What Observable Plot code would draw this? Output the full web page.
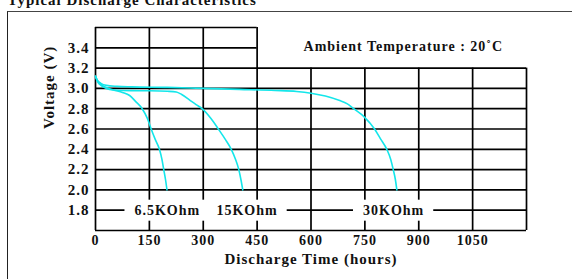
<!DOCTYPE html>
<html><head><meta charset="utf-8">
<script src="https://cdn.jsdelivr.net/npm/d3@7"></script>
<script src="https://cdn.jsdelivr.net/npm/@observablehq/plot@0.6"></script>
<style>
body{margin:0;background:#fff;}
#wrap{position:relative;width:572px;height:279px;overflow:hidden;}
#frame{position:absolute;left:7px;top:11px;right:0;bottom:-5px;border-top:1px solid #444;border-left:1.5px solid #222;pointer-events:none;}
</style></head><body><div id="wrap"><div id="frame"></div></div>
<script>
// ---- data ----
const hours65 = [0,5,15,30,50,75,95,112,130,145,155,166,178,185,190,195,199];
const volts65 = [3.12,3.08,3.04,3.01,2.985,2.96,2.93,2.87,2.80,2.70,2.60,2.50,2.40,2.30,2.20,2.10,2.00];
const hours15 = [0,5,15,30,50,100,150,200,225,240,264,280,297,322,342,361,378,390,399,405,410];
const volts15 = [3.12,3.07,3.03,3.0,2.985,2.978,2.977,2.972,2.965,2.94,2.88,2.84,2.80,2.70,2.60,2.50,2.40,2.30,2.20,2.10,2.00];
const hours30 = [0,5,15,30,60,100,200,300,400,500,560,600,640,680,700,719,748,777,794,811,822,829,835,839];
const volts30 = [3.12,3.08,3.05,3.03,3.02,3.015,3.01,3.0,2.99,2.98,2.97,2.953,2.925,2.88,2.85,2.80,2.72,2.60,2.50,2.40,2.30,2.20,2.10,2.00];

const seriesNames = ["6.5KOhm","15KOhm","30KOhm"];
const labelHours = [200,422,830];
const labelVolt = 1.8;

const xTicks = [0,150,300,450,600,750,900,1050];
const yTicks = [1.8,2.0,2.2,2.4,2.6,2.8,3.0,3.2,3.4];
const gridX = [0,150,300,450,600,750,900,1050,1200];
const gridY = [1.6,1.8,2.0,2.2,2.4,2.6,2.8,3.0,3.2,3.4,3.6];

const titleText = "Typical Discharge Characteristics";
const xTitle = "Discharge Time (hours)";
const yTitle = "Voltage (V)";
const noteText = "Ambient Temperature : 20˚C";
const noteHours = 857, noteVolt = 3.41;

// ---- build ----
const curves = [
  hours65.map((h,i)=>({series:seriesNames[0], h, v:volts65[i]})),
  hours15.map((h,i)=>({series:seriesNames[1], h, v:volts15[i]})),
  hours30.map((h,i)=>({series:seriesNames[2], h, v:volts30[i]}))
].flat();
const labels = seriesNames.map((s,i)=>({s, h:labelHours[i], v:labelVolt}));

const cyan = "#14e6ea";
const plot = Plot.plot({
  width: 572, height: 279,
  marginLeft: 95, marginRight: 46, marginTop: 27, marginBottom: 49,
  x: {domain:[0,1200]},
  y: {domain:[1.6,3.6]},
  style: {fontFamily:"'Liberation Serif', 'Times New Roman', serif", fontWeight:"bold", fontSize:"14px", letterSpacing:"1px", color:"#111", background:"transparent"},
  marks: [
    Plot.ruleX(gridX, {x:d=>d, y1:1.6, y2:d=> d<=450 ? 3.6 : 3.2, stroke:"#000", strokeWidth:1.7}),
    Plot.ruleY(gridY, {y:d=>d, x1:0, x2:d=> d>3.21 ? 450 : 1200, stroke:"#000", strokeWidth:1.7}),
    Plot.line(curves, {x:"h", y:"v", z:"series", stroke:cyan, strokeWidth:1.6, curve:"monotone-x"}),
    Plot.text(labels, {x:"h", y:"v", text:"s", fontSize:14, fill:"#111", lineAnchor:"middle"}),
    Plot.axisX(xTicks, {tickSize:0, tickPadding:5, fontSize:14, fill:"#111", label:null, tickFormat:d=>String(d)}),
    Plot.axisY(yTicks, {tickSize:0, tickPadding:6, fontSize:15, label:null, tickFormat:d=>d.toFixed(1), fill:"#111"}),
    Plot.text([yTitle], {frameAnchor:"left", dx:-46, rotate:-90, fontSize:15, fill:"#111"}),
    Plot.text([xTitle], {frameAnchor:"bottom", dy:33, fontSize:15, fill:"#111"}),
    Plot.text([noteText], {x:()=>noteHours, y:()=>noteVolt, fontSize:14, fill:"#111"}),
    Plot.text([titleText], {frameAnchor:"top-left", textAnchor:"start", dx:-88, dy:-33.5, fontSize:15, fill:"#111", letterSpacing:"0.5px"})
  ]
});
const wrap = document.getElementById("wrap");
wrap.prepend(plot);

// white boxes behind curve labels
plot.querySelectorAll("text").forEach(t=>{
  if (seriesNames.includes(t.textContent)) {
    const b = t.getBBox();
    const r = document.createElementNS("http://www.w3.org/2000/svg","rect");
    const cy = b.y + b.height/2;
    r.setAttribute("x", b.x - 10);
    r.setAttribute("width", b.width + 19);
    r.setAttribute("y", cy - 10.5);
    r.setAttribute("height", 21);
    r.setAttribute("fill", "#fff");
    if (t.getAttribute("transform")) r.setAttribute("transform", t.getAttribute("transform"));
    t.parentNode.insertBefore(r, t);
  }
});
</script>
</body></html>
